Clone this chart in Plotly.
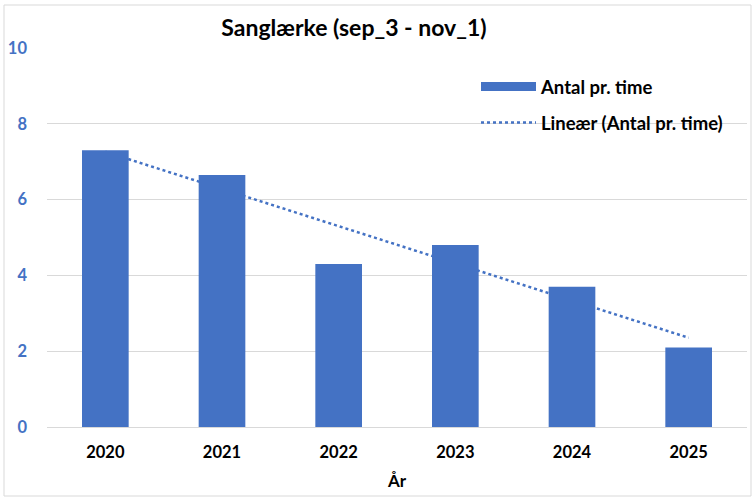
import numpy as np
import plotly.graph_objects as go

years = [2020, 2021, 2022, 2023, 2024, 2025]
antal = [7.3, 6.65, 4.3, 4.8, 3.7, 2.1]
title_text = "Sanglærke (sep_3 - nov_1)"
bar_name = "Antal pr. time"
trend_name = "Lineær (Antal pr. time)"
x_title = "År"
y_ticks = [0, 2, 4, 6, 8, 10]

BLUE = "#4472C4"
GRID = "#D9D9D9"
FONT = "Lato"

# Excel-style linear trendline on x = 1..n
idx = np.arange(1, len(years) + 1)
slope, intercept = np.polyfit(idx, antal, 1)
trend = slope * idx + intercept

W, H = 756, 501
ML, MR, MT, MB = 47, 9, 48, 74
PW, PH = W - ML - MR, H - MT - MB

def px(xp):
    return (xp - ML) / PW

def py(yp):
    return (H - MB - yp) / PH

fig = go.Figure()

# trendline on base axes (drawn beneath bars, like Excel)
fig.add_trace(go.Scatter(
    x=years, y=trend, mode="lines", name="<b>" + trend_name + "</b>",
    line=dict(color=BLUE, width=2.5, dash="dot"),
    legend="legend2", hoverinfo="skip",
))

# bars on overlay axes (drawn on top)
fig.add_trace(go.Bar(
    x=years, y=antal, name=bar_name, marker=dict(color=BLUE, line=dict(width=0)),
    xaxis="x2", yaxis="y2", showlegend=False,
))

# legend entry for bars in Excel-like wide swatch
fig.add_trace(go.Scatter(
    x=[None], y=[None], mode="lines", name="<b>" + bar_name + "</b>",
    line=dict(color=BLUE, width=9), legend="legend",
))

xr = [years[0] - 0.5, years[-1] + 0.5]
yr = [0, 10]

fig.update_layout(
    width=W, height=H,
    margin=dict(l=ML, r=MR, t=MT, b=MB, pad=0),
    paper_bgcolor="white", plot_bgcolor="white",
    font=dict(family=FONT, size=16, color="#000000"),
    bargap=0.6,
    title=dict(text="<b>" + title_text + "</b>", x=px(354), xref="paper", xanchor="center",
               y=1 - 28 / H, yanchor="middle", yref="container",
               font=dict(family=FONT, size=23, color="#000000")),
    xaxis=dict(
        range=xr, tickmode="array", tickvals=years, ticktext=["<b>%d</b>" % y for y in years],
        showgrid=False, zeroline=False, showline=True, linecolor=GRID, linewidth=1,
        ticks="", ticklabelstandoff=10,
        tickfont=dict(family=FONT, size=16.5, color="#000000"),
        title=dict(text="<b>" + x_title + "</b>", standoff=14,
                   font=dict(family=FONT, size=17, color="#000000")),
        fixedrange=True,
    ),
    yaxis=dict(
        range=yr, tickmode="array", tickvals=y_ticks, ticktext=["<b>%d</b>" % v for v in y_ticks],
        showgrid=True, gridcolor=GRID, gridwidth=1, zeroline=False, showline=False,
        ticks="", ticklabelstandoff=19,
        tickfont=dict(family=FONT, size=16.5, color=BLUE),
        fixedrange=True,
    ),
    xaxis2=dict(range=xr, overlaying="x", visible=False, fixedrange=True),
    yaxis2=dict(range=yr, overlaying="y", visible=False, fixedrange=True),
    legend=dict(x=px(476), y=py(87), xanchor="left", yanchor="middle",
                bgcolor="rgba(0,0,0,0)", itemwidth=55,
                font=dict(family=FONT, size=18.5, color="#000000"), borderwidth=0),
    legend2=dict(x=px(476), y=py(123), xanchor="left", yanchor="middle",
                 bgcolor="rgba(0,0,0,0)", itemwidth=55,
                 font=dict(family=FONT, size=18.5, color="#000000"), borderwidth=0),
    shapes=[dict(type="rect", xref="paper", yref="paper",
                 x0=px(4), x1=px(751), y0=py(496), y1=py(5),
                 line=dict(color=GRID, width=1), fillcolor="rgba(0,0,0,0)", layer="below")],
)

fig.write_html("out.html", config={"displayModeBar": False, "staticPlot": False})

# remove default browser body margin so the figure sits at the window origin
with open("out.html", "r", encoding="utf-8") as f:
    html = f.read()
html = html.replace("<body>", '<body style="margin:0;padding:0;overflow:hidden">', 1)
with open("out.html", "w", encoding="utf-8") as f:
    f.write(html)
